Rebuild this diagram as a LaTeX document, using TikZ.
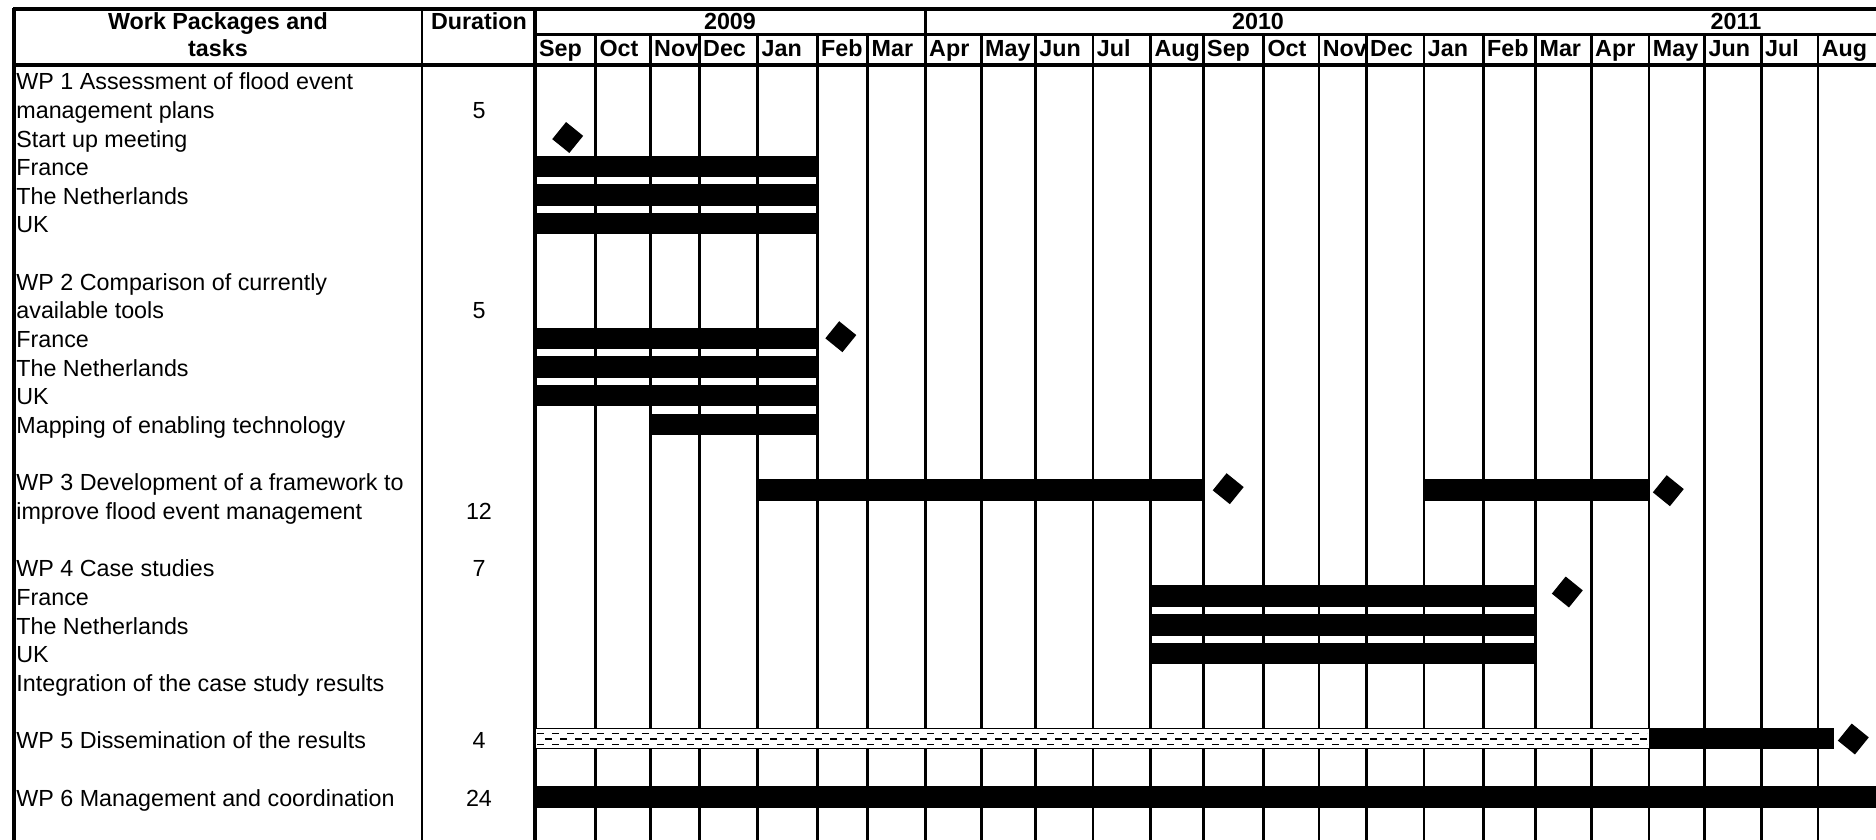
\documentclass[tikz,border=0pt]{standalone}
\usepackage{fontspec}
\setmainfont{Liberation Sans}

\begin{document}
\begin{tikzpicture}[x=0.5pt,y=-0.5pt,
  every node/.style={inner sep=0pt,font=\fontsize{11.65}{14}\selectfont},
  hd/.style={font=\fontsize{11.65}{14}\selectfont\bfseries,anchor=base},
  task/.style={anchor=base west},
  dur/.style={anchor=base},
  gridline/.style={line width=1.35pt},
  heavy/.style={line width=2pt},
  wpbar/.style={fill=black},
  milestone/.style={fill=black,minimum size=11pt,rotate=51}]
\clip (0,0) rectangle (1876,840);
\node[hd] (wphead) at (218,30) {Work Packages and};
\node[hd] (tasks) at (218,57) {tasks};
\node[hd] (durhead) at (479,30) {Duration};
\node[hd] (y2009) at (730,30) {2009};
\node[hd] (y2010) at (1258,30) {2010};
\node[hd] (y2011) at (1736,30) {2011};
\foreach \r/\t [count=\i] in {1/WP 1 Assessment of flood event, 2/management plans,
    3/Start up meeting, 4/France, 5/The Netherlands, 6/UK,
    8/WP 2 Comparison of currently, 9/available tools, 10/France, 11/The Netherlands,
    12/UK, 13/Mapping of enabling technology,
    15/WP 3 Development of a framework to, 16/improve flood event management,
    18/WP 4 Case studies, 19/France, 20/The Netherlands, 21/UK,
    22/Integration of the case study results,
    24/WP 5 Dissemination of the results, 26/WP 6 Management and coordination}
  \node[task] (task\i) at (16,{89.7+28.66*(\r-1)}) {\t};
\foreach \r/\d [count=\i] in {2/5, 9/5, 16/12, 18/7, 24/4, 26/24}
  \node[dur] (dur\i) at (479,{89.7+28.66*(\r-1)}) {\d};
\foreach \x/\m [count=\i] in {535.3/Sep, 595.7/Oct, 650.3/Nov, 699.3/Dec, 757.8/Jan,
    817.3/Feb, 867.8/Mar, 925.3/Apr, 981.3/May, 1035.5/Jun, 1093/Jul, 1150.7/Aug,
    1203.3/Sep, 1263.7/Oct, 1319/Nov, 1366.3/Dec, 1424/Jan, 1483.3/Feb, 1535.7/Mar,
    1591.3/Apr, 1649/May, 1704.8/Jun, 1761.2/Jul, 1818/Aug} {
  \node[hd,anchor=base west] (month\i) at (\x+3.5,57) {\m};
  \draw[gridline] (\x,34.5) -- (\x,840);
}
\draw[heavy] (13,8.7) -- (1876,8.7);
\draw[line width=1.6pt] (14,8) -- (14,840);
\draw[gridline] (422,8) -- (422,840);
\draw[heavy] (535.3,8) -- (535.3,840);
\draw[gridline] (925.3,8) -- (925.3,34.5);
\draw[line width=1.15pt] (535.3,34.5) -- (1876,34.5);
\draw[line width=1.7pt] (13,65) -- (1876,65);
\foreach \a/\b/\r in {535.3/817.3/4, 535.3/817.3/5, 535.3/817.3/6,
    535.3/817.3/10, 535.3/817.3/11, 535.3/817.3/12, 650.3/817.3/13,
    1150.7/1535.7/19, 1150.7/1535.7/20, 1150.7/1535.7/21, 534.3/1880/26}
  \fill[wpbar] (\a,{80.4+28.66*(\r-1)-10.8}) rectangle (\b,{80.4+28.66*(\r-1)+10.8});
\fill[wpbar] (757.8,479.3) rectangle (1203.3,501);
\fill[wpbar] (1424,479.3) rectangle (1649,501);
\draw[line width=0.5pt,fill=white] (535.3,728.8) rectangle (1649,748.8);
\draw[line width=0.6pt,dash pattern=on 3.5pt off 4pt] (537,733.2) -- (1647,733.2);
\draw[line width=0.6pt,dash pattern=on 3.5pt off 4pt,dash phase=3.5pt] (537,739) -- (1647,739);
\draw[line width=0.6pt,dash pattern=on 3.5pt off 4pt] (537,744.8) -- (1647,744.8);
\fill[wpbar] (1649,728.3) rectangle (1834.3,749.3);
\node[milestone] (ms1) at (567.7,137.5) {};
\node[milestone] (ms2) at (840.8,336.7) {};
\node[milestone] (ms3) at (1228.2,488.7) {};
\node[milestone] (ms4) at (1668.3,490.7) {};
\node[milestone] (ms5) at (1567.3,592) {};
\node[milestone] (ms6) at (1853.3,739) {};
\end{tikzpicture}
\end{document}
